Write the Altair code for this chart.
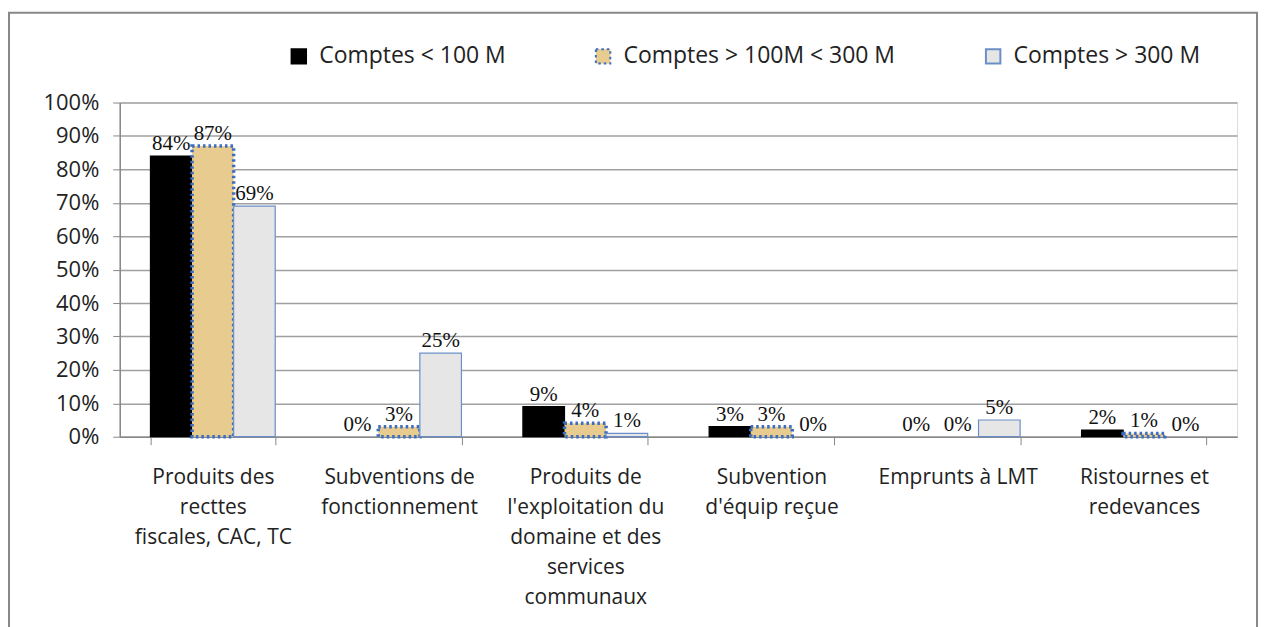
import altair as alt
import pandas as pd

categories = [
    "Produits des|recttes|fiscales, CAC, TC",
    "Subventions de|fonctionnement",
    "Produits de|l'exploitation du|domaine et des|services|communaux",
    "Subvention|d'équip reçue",
    "Emprunts à LMT",
    "Ristournes et|redevances",
]
series = ["Comptes < 100 M", "Comptes > 100M < 300 M", "Comptes > 300 M"]
lt100 = [84, 0, 9, 3, 0, 2]
mid = [87, 3, 4, 3, 0, 1]
gt300 = [69, 25, 1, 0, 5, 0]
y_ticks = [0, 10, 20, 30, 40, 50, 60, 70, 80, 90, 100]

rows = []
for vals, s in zip([lt100, mid, gt300], series):
    for c, v in zip(categories, vals):
        rows.append({"cat": c, "series": s, "value": v, "label": f"{v}%"})
df = pd.DataFrame(rows)

W, H = 1120, 335
PADL, PADT, PADR, PADB = 112, 94, 24, 195

sans = "Open Sans"
serif = "Liberation Serif"

xenc = alt.X("cat:N", sort=categories, title=None,
             scale=alt.Scale(paddingInner=0.33, paddingOuter=0.165),
             axis=alt.Axis(labelExpr="split(datum.label, '|')", labelAngle=0,
                           labelFontSize=21, labelFont=sans, labelColor="#222",
                           labelLineHeight=30, labelPadding=22, labelBaseline="top",
                           tickBand="extent", tickSize=8, tickColor="#888",
                           domainColor="#888", domainWidth=1.5, grid=False,
                           labelLimit=400))
yenc = alt.Y("value:Q", title=None,
             scale=alt.Scale(domain=[0, 100], nice=False),
             axis=alt.Axis(values=y_ticks, labelExpr="datum.value + '%'",
                           labelOverlap=False, tickCount=11,
                           labelFontSize=22, labelFont=sans, labelColor="#222",
                           labelPadding=14, tickSize=7, tickColor="#888",
                           domainColor="#888", domainWidth=1.5,
                           grid=True, gridColor="#a0a0a0", gridWidth=1.5))

is_mid = f"datum.series == '{series[1]}'"
bars = alt.Chart(df).mark_bar().encode(
    x=xenc,
    xOffset=alt.XOffset("series:N", sort=series),
    y=yenc,
    fill=alt.Fill("series:N", sort=series,
                  scale=alt.Scale(domain=series, range=["#000000", "#E8CB8E", "#E6E6E6"]),
                  legend=alt.Legend(title=None, orient="none", direction="horizontal",
                                    legendX=168, legendY=-58, labelFontSize=23,
                                    labelFont=sans, labelColor="#222", labelLimit=400,
                                    symbolType="square", symbolSize=210, symbolStrokeWidth=2,
                                    columnPadding=86, labelOffset=9)),
    stroke=alt.Stroke("series:N", sort=series,
                      scale=alt.Scale(domain=series, range=["#000000", "#3B6DC0", "#6A8FC8"]),
                      legend=None),
    strokeDash=alt.StrokeDash("series:N", sort=series,
                              scale=alt.Scale(domain=series, range=[[1, 0], [2.5, 3], [1, 0]]),
                              legend=None),
    strokeWidth=alt.condition(is_mid, alt.value(3.5), alt.value(1.2)),
    strokeOpacity=alt.condition("datum.value == 0", alt.value(0), alt.value(1)),
)

text = alt.Chart(df).mark_text(dy=-2, baseline="bottom", font=serif, fontSize=21, color="#111").encode(
    x=xenc,
    xOffset=alt.XOffset("series:N", sort=series),
    y=yenc,
    text="label:N",
)

frame = alt.Chart(alt.Data(values=[{"a": 1}])).mark_rect(
    fill=None, stroke="#888", strokeWidth=2
).encode(
    x=alt.value(-PADL + 1), x2=alt.value(W + 20),
    y=alt.value(-PADT + 4), y2=alt.value(H + PADB + 20),
)

chart = alt.layer(frame, bars, text).properties(
    width=W, height=H,
    autosize=alt.AutoSizeParams(type="none"),
    padding={"left": PADL, "top": PADT, "right": PADR, "bottom": PADB},
).configure_view(stroke=None).configure(background="white")

chart.save("out.html", embed_options={"renderer": "svg", "actions": False})
